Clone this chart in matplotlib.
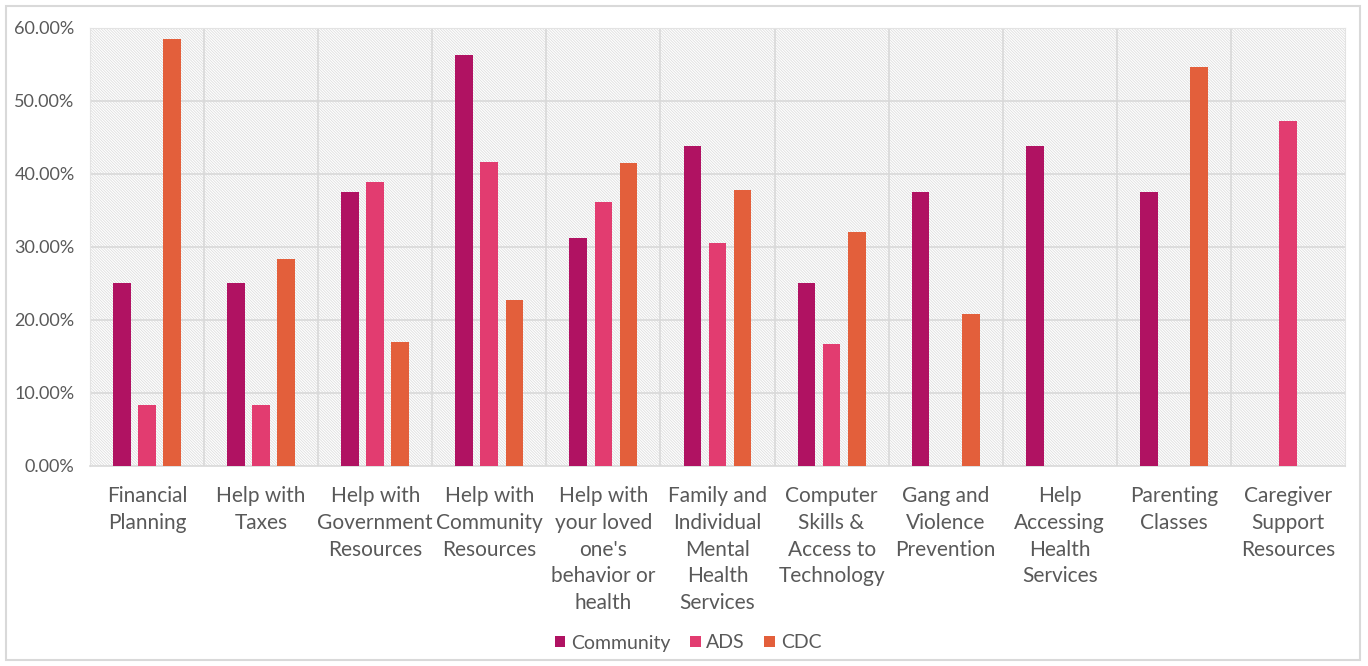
import numpy as np
import matplotlib
matplotlib.use("Agg")
import matplotlib.pyplot as plt
from matplotlib.patches import Rectangle
from matplotlib.ticker import FuncFormatter

plt.rcParams['font.family'] = ['Lato', 'DejaVu Sans']
plt.rcParams['hatch.linewidth'] = 0.6

# Data (percent)
categories = ["Financial\nPlanning", "Help with\nTaxes", "Help with\nGovernment\nResources",
              "Help with\nCommunity\nResources", "Help with\nyour loved\none's\nbehavior or\nhealth",
              "Family and\nIndividual\nMental\nHealth\nServices", "Computer\nSkills &\nAccess to\nTechnology",
              "Gang and\nViolence\nPrevention", "Help\nAccessing\nHealth\nServices", "Parenting\nClasses",
              "Caregiver\nSupport\nResources"]
community = [25.0, 25.0, 37.5, 56.25, 31.25, 43.75, 25.0, 37.5, 43.75, 37.5, 0]
ads = [8.33, 8.33, 38.89, 41.67, 36.11, 30.56, 16.67, 0, 0, 0, 47.22]
cdc = [58.49, 28.30, 16.98, 22.64, 41.51, 37.74, 32.08, 20.75, 0, 54.72, 0]

series = [("Community", community, "#B01262"),
          ("ADS", ads, "#E23C70"),
          ("CDC", cdc, "#E35F3B")]

fig = plt.figure(figsize=(13.68, 6.66), dpi=100)
ax = fig.add_axes([90/1368, 1-465.5/666, 1255/1368, 437.5/666])

# outer chart border
fig.patches.append(Rectangle((6/1368, 6/666), 1354/1368, 654/666, transform=fig.transFigure,
                             fill=False, edgecolor="#D9D9D9", linewidth=1.5))

# hatched plot background
bg = Rectangle((0, 0), 1, 1, transform=ax.transAxes, facecolor="white",
               edgecolor="#DEDEDE", linewidth=0, hatch="\\" * 12, zorder=0)
ax.add_patch(bg)

x = np.arange(len(categories))
w = 0.155
offs = [-0.22, 0, 0.22]
for (name, vals, col), o in zip(series, offs):
    ax.bar(x + o, vals, width=w, color=col, label=name, zorder=3)

ax.set_xlim(-0.5, len(categories) - 0.5)
ax.set_ylim(0, 60)
ax.set_yticks(np.arange(0, 61, 10))
ax.yaxis.set_major_formatter(FuncFormatter(lambda v, p: "%.2f%%" % v))

for yv in np.arange(10, 61, 10):
    ax.axhline(yv, color="#D9D9D9", linewidth=1.2, zorder=1)
for xv in np.arange(0.5, len(categories) - 0.5, 1):
    ax.axvline(xv, color="#D9D9D9", linewidth=1.2, zorder=1)

ax.set_xticks(x)
ax.set_xticklabels(categories, fontsize=15, color="#595959", linespacing=1.42, va="top")
ax.tick_params(axis="x", length=0, pad=15)
ax.tick_params(axis="y", length=0, pad=11, labelsize=13, labelcolor="#595959")

for s in ["left", "right", "top"]:
    ax.spines[s].set_color("#E3E3E3")
ax.spines["bottom"].set_color("#D9D9D9")
ax.spines["bottom"].set_linewidth(1.2)

leg = fig.legend(loc="center", bbox_to_anchor=(688/1368, 1-643/666), ncol=3, frameon=False,
                 fontsize=14, handlelength=0.55, handleheight=0.55, handletextpad=0.3,
                 columnspacing=1.0)
for t in leg.get_texts():
    t.set_color("#595959")

fig.savefig("out.png", dpi=100)
